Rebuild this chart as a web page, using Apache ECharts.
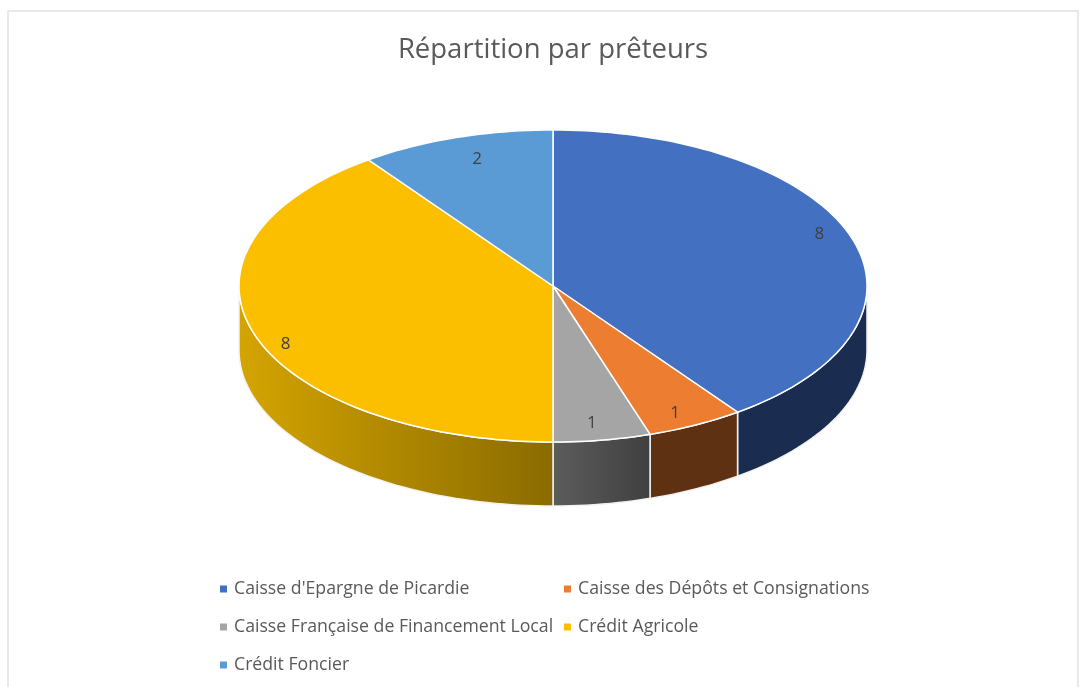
<!DOCTYPE html>
<html>
<head>
<meta charset="utf-8">
<title>Répartition par prêteurs</title>
<style>
html, body { margin: 0; padding: 0; background: #fff; }
#myChart { width: 1089px; height: 687px; }
</style>
<script src="https://cdn.jsdelivr.net/npm/echarts@6/dist/echarts.min.js"></script>
</head>
<body>
<div id="myChart"></div>
<script>
var titleText = 'Répartition par prêteurs';
var lenders = ["Caisse d'Epargne de Picardie", 'Caisse des Dépôts et Consignations', 'Caisse Française de Financement Local', 'Crédit Agricole', 'Crédit Foncier'];
var counts = [8, 1, 1, 8, 2];
var topColors = ['#4370c1', '#ed7d31', '#a5a5a5', '#fcbf00', '#5b9bd5'];
var wallLeft = ['#1a2c50', '#5f3113', '#5c5c5c', '#d4a400', '#3a6f9f'];
var wallRight = ['#1a2c50', '#5f3113', '#404040', '#8a6b00', '#3a6f9f'];

// 饼图的椭圆位置
var cx = 553, cy = 286, rx = 314, ry = 156, depth = 64;
var fontName = '"Open Sans", "Noto Sans", sans-serif';
var total = 0;
for (var t = 0; t < counts.length; t++) {
    total += counts[t];
}

// 标签相对扇区中线的偏移角度和半径比例
var labelShift = [-4, 1.3, 0.9, -5, 1.6];
var labelRadius = [0.915, 0.897, 0.88, 0.925, 0.855];

function pt(deg, dy) {
    var a = deg * Math.PI / 180;
    return [cx + rx * Math.sin(a), cy - ry * Math.cos(a) + (dy || 0)];
}

function arcPoints(from, to, dy) {
    var list = [];
    var steps = Math.max(2, Math.ceil(Math.abs(to - from) / 1.5));
    for (var i = 0; i <= steps; i++) {
        list.push(pt(from + (to - from) * i / steps, dy));
    }
    return list;
}

function renderSlice(index) {
    return function (params, api) {
        var before = 0;
        for (var k = 0; k < index; k++) {
            before += counts[k];
        }
        var value = api.value(0);
        var start = before / total * 360;
        var end = (before + value) / total * 360;
        var children = [];

        // 侧面只画前半圈 90 到 270 度
        var wallFrom = Math.max(start, 90);
        var wallTo = Math.min(end, 270);
        if (wallTo > wallFrom) {
            var wall = arcPoints(wallFrom, wallTo, 0).concat(arcPoints(wallTo, wallFrom, depth));
            var x1 = pt(wallFrom)[0], x2 = pt(wallTo)[0];
            children.push({
                type: 'polygon',
                shape: { points: wall },
                style: {
                    fill: new echarts.graphic.LinearGradient(x1, 0, x2, 0, [
                        { offset: 0, color: x1 < x2 ? wallLeft[index] : wallRight[index] },
                        { offset: 1, color: x1 < x2 ? wallRight[index] : wallLeft[index] }
                    ], true),
                    stroke: '#f2f2f2',
                    lineWidth: 1.5
                }
            });
        }

        children.push({
            type: 'polygon',
            z2: 5,
            shape: { points: [[cx, cy]].concat(arcPoints(start, end, 0)) },
            style: { fill: topColors[index], stroke: '#fff', lineWidth: 1.5 }
        });

        var lp = pt((start + end) / 2 + labelShift[index]);
        children.push({
            type: 'text',
            z2: 10,
            style: {
                text: String(value),
                x: cx + (lp[0] - cx) * labelRadius[index],
                y: cy + (lp[1] - cy) * labelRadius[index] + 1.5,
                fill: '#404040',
                font: '17px ' + fontName,
                align: 'center',
                verticalAlign: 'middle'
            }
        });
        return { type: 'group', children: children };
    };
}

var myChart = echarts.init(document.getElementById('myChart'));

var legendBase = {
    orient: 'vertical',
    icon: 'rect',
    itemWidth: 7,
    itemHeight: 7,
    itemGap: 20,
    selectedMode: false,
    textStyle: { color: '#595959', fontSize: 17.7, fontFamily: fontName, padding: [0, 0, 0, 2] }
};

var option = {
    animation: false,
    backgroundColor: '#fff',
    title: {
        text: titleText,
        left: 548,
        top: 31,
        textAlign: 'center',
        textStyle: { color: '#595959', fontSize: 27.5, fontWeight: 'normal', fontFamily: fontName }
    },
    graphic: [{
        type: 'rect',
        silent: true,
        shape: { x: 8, y: 11, width: 1070, height: 700 },
        style: { fill: 'none', stroke: '#e2e2e2', lineWidth: 1.5 }
    }],
    legend: [
        Object.assign({}, legendBase, { left: 215, top: 575, data: [lenders[0], lenders[2], lenders[4]] }),
        Object.assign({}, legendBase, { left: 559, top: 575, data: [lenders[1], lenders[3]] })
    ],
    series: []
};

for (var m = 0; m < lenders.length; m++) {
    option.series.push({
        type: 'custom',
        name: lenders[m],
        coordinateSystem: 'none',
        itemStyle: { color: topColors[m] },
        renderItem: renderSlice(m),
        data: [[counts[m]]]
    });
}

myChart.setOption(option);
</script>
</body>
</html>
